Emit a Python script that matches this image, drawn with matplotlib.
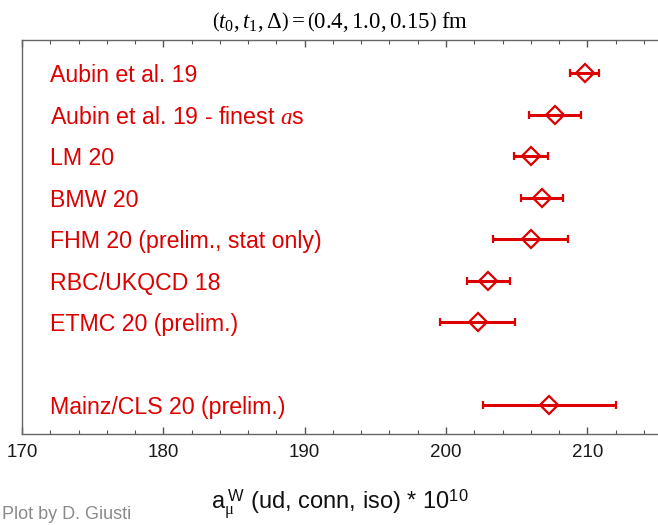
import matplotlib

matplotlib.use("Agg")
import matplotlib.pyplot as plt
from matplotlib.ticker import MultipleLocator

# ---------------------------------------------------------------------------
# Data: a_mu^W (ud, conn, iso) * 10^10
# ---------------------------------------------------------------------------
LABELS = [
    "Aubin et al. 19",
    "Aubin et al. 19 - finest $a$s",
    "LM 20",
    "BMW 20",
    "FHM 20 (prelim., stat only)",
    "RBC/UKQCD 18",
    "ETMC 20 (prelim.)",
    "Mainz/CLS 20 (prelim.)",
]
VALUES = [209.8, 207.7, 206.0, 206.8, 206.0, 203.0, 202.25, 207.3]
ERRORS = [1.0, 1.85, 1.2, 1.5, 2.65, 1.5, 2.65, 4.7]
ROWS = [9, 8, 7, 6, 5, 4, 3, 1]  # one empty slot above Mainz

RED = "#dd0000"

plt.rcParams["font.family"] = ["Liberation Sans", "DejaVu Sans"]
# serif maths (Times-like) for the title, sans for the axis label pieces
plt.rcParams["mathtext.fontset"] = "custom"
plt.rcParams["mathtext.rm"] = "Liberation Serif"
plt.rcParams["mathtext.it"] = "Liberation Serif:italic"
plt.rcParams["mathtext.sf"] = "Liberation Sans"

fig = plt.figure(figsize=(6.58, 5.25), dpi=100)
ax = fig.add_axes([0.0334, 0.1733, 0.9666, 0.7505])

ax.errorbar(
    VALUES,
    ROWS,
    xerr=ERRORS,
    fmt="D",
    color=RED,
    markersize=9,
    markerfacecolor="none",
    markeredgewidth=1.6,
    elinewidth=2.2,
    capsize=3,
    capthick=2.4,
    linestyle="none",
)

for lab, row in zip(LABELS, ROWS):
    ax.text(
        0.044,
        row,
        lab,
        transform=ax.get_yaxis_transform(),
        color=RED,
        fontsize=16.7,
        va="center_baseline",
        ha="left",
    )

ax.set_xlim(170, 215)
ax.set_ylim(0.3, 9.8)
ax.xaxis.set_major_locator(MultipleLocator(10))
ax.xaxis.set_minor_locator(MultipleLocator(2))
ax.set_yticks([])
ax.tick_params(axis="x", which="both", direction="in", top=True,
               colors="#555555", labelcolor="#1a1a1a", labelsize=13.5, pad=7)
ax.tick_params(axis="x", which="major", length=5, width=1)
ax.tick_params(axis="x", which="minor", length=3, width=0.8)
for side in ("left", "bottom", "top"):
    ax.spines[side].set_color("#666666")
    ax.spines[side].set_linewidth(1.0)
ax.spines["right"].set_visible(False)

fig.text(
    0.517, 0.9467,
    r"$\left(t_0,t_1,\Delta\right)=\left(0.4,1.0,0.15\right)\ \mathrm{fm}$",
    ha="center", va="baseline", fontsize=16.5,
)
fig.text(
    0.517, 0.0305,
    r"a$_{\mathrm{\mu}}^{\;\mathsf{W}}$ (ud, conn, iso) * 10$^{\mathsf{10}}$",
    ha="center", va="baseline", fontsize=17, color="#111111",
)
fig.text(0.003, 0.004, "Plot by D. Giusti", ha="left", va="bottom",
         fontsize=13, color="#8a8a8a")

fig.savefig("out.png", dpi=100)
